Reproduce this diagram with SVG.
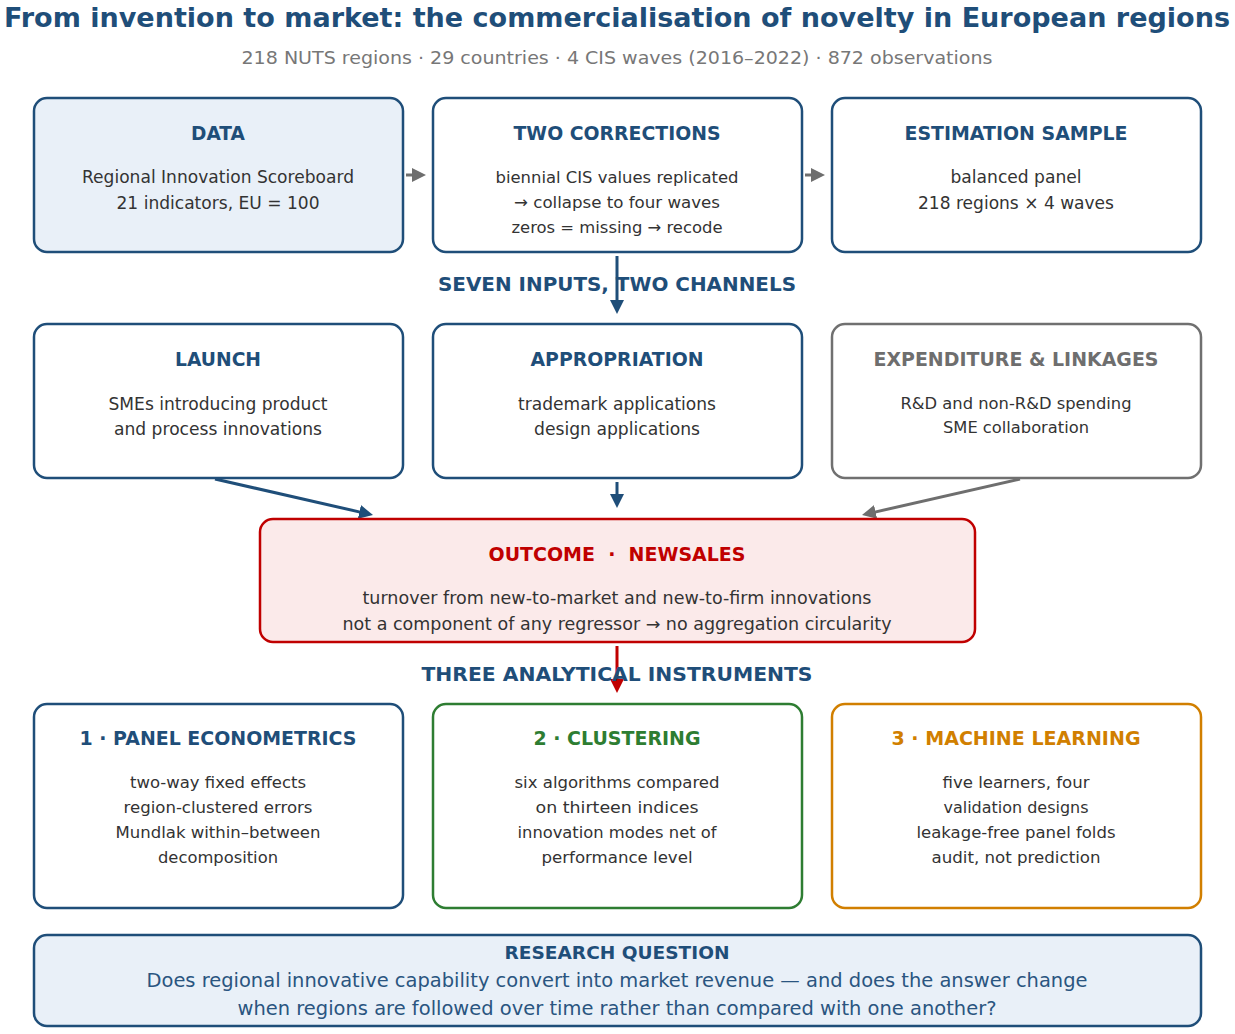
<svg xmlns="http://www.w3.org/2000/svg" width="1235" height="1034" viewBox="0 0 1235 1034">
<style>
text{font-family:"DejaVu Sans","Liberation Sans",sans-serif;text-anchor:middle}
.title{font-size:26px;font-weight:bold;fill:#1f4e79}
.sub{font-size:18px;fill:#777}
.h{font-size:19px;font-weight:bold;fill:#1f4e79}
.b{font-size:17px;fill:#333}
.b16{font-size:16px;fill:#333}
.sec{font-size:19px;font-weight:bold;fill:#1f4e79}
.box{fill:#fff;stroke:#1f4e79;stroke-width:2.5}
.blue{fill:#e9f0f8}
.gbox{fill:#fff;stroke:#707070;stroke-width:2.5}
.rbox{fill:#fbeaea;stroke:#c00000;stroke-width:2.5}
.grbox{fill:#fff;stroke:#2e7d32;stroke-width:2.5}
.obox{fill:#fff;stroke:#d17f00;stroke-width:2.5}
.cb{stroke:#1f4e79;stroke-width:3;fill:none}
.cg{stroke:#6e6e6e;stroke-width:3;fill:none}
.cr{stroke:#c00000;stroke-width:3;fill:none}
</style>
<defs>
<marker id="ab" markerWidth="14" markerHeight="14" refX="3" refY="7" orient="auto" markerUnits="userSpaceOnUse"><path d="M0,0 L14,7 L0,14 Z" fill="#1f4e79"/></marker>
<marker id="ag" markerWidth="14" markerHeight="14" refX="3" refY="7" orient="auto" markerUnits="userSpaceOnUse"><path d="M0,0 L14,7 L0,14 Z" fill="#6e6e6e"/></marker>
<marker id="ar" markerWidth="14" markerHeight="14" refX="3" refY="7" orient="auto" markerUnits="userSpaceOnUse"><path d="M0,0 L14,7 L0,14 Z" fill="#c00000"/></marker>
</defs>
<rect width="1235" height="1034" fill="#fff"/>
<text class="title" x="617" y="27" textLength="1226" lengthAdjust="spacingAndGlyphs">From invention to market: the commercialisation of novelty in European regions</text>
<text class="sub" x="617" y="64" textLength="751" lengthAdjust="spacingAndGlyphs">218 NUTS regions · 29 countries · 4 CIS waves (2016–2022) · 872 observations</text>

<g id="connectors">
<line class="cg" x1="406" y1="175" x2="415" y2="175" marker-end="url(#ag)"/>
<line class="cg" x1="805" y1="175" x2="814" y2="175" marker-end="url(#ag)"/>
<line class="cb" x1="617" y1="256" x2="617" y2="303" marker-end="url(#ab)"/>
<line class="cb" x1="215" y1="479" x2="362.3" y2="512.6" marker-end="url(#ab)"/>
<line class="cb" x1="617" y1="482" x2="617" y2="497" marker-end="url(#ab)"/>
<line class="cg" x1="1020" y1="479" x2="872.7" y2="512.6" marker-end="url(#ag)"/>
<line class="cr" x1="617" y1="646" x2="617" y2="682" marker-end="url(#ar)"/>
</g>

<text class="sec" x="617" y="291" textLength="358" lengthAdjust="spacingAndGlyphs">SEVEN INPUTS, TWO CHANNELS</text>
<text class="sec" x="617" y="681" textLength="391" lengthAdjust="spacingAndGlyphs">THREE ANALYTICAL INSTRUMENTS</text>

<g id="data">
<rect class="box blue" x="34" y="98" width="369" height="154" rx="13"/>
<text class="h" x="218" y="140" textLength="54" lengthAdjust="spacingAndGlyphs">DATA</text>
<text class="b" x="218" y="183" textLength="272" lengthAdjust="spacingAndGlyphs">Regional Innovation Scoreboard</text>
<text class="b" x="218" y="209" textLength="203" lengthAdjust="spacingAndGlyphs">21 indicators, EU = 100</text>
</g>
<g id="corrections">
<rect class="box" x="433" y="98" width="369" height="154" rx="13"/>
<text class="h" x="617" y="140" textLength="207" lengthAdjust="spacingAndGlyphs">TWO CORRECTIONS</text>
<text class="b16" x="617" y="183" textLength="243" lengthAdjust="spacingAndGlyphs">biennial CIS values replicated</text>
<text class="b16" x="617" y="208" textLength="206" lengthAdjust="spacingAndGlyphs">→ collapse to four waves</text>
<text class="b16" x="617" y="233" textLength="211" lengthAdjust="spacingAndGlyphs">zeros = missing → recode</text>
</g>
<g id="sample">
<rect class="box" x="832" y="98" width="369" height="154" rx="13"/>
<text class="h" x="1016" y="140" textLength="223" lengthAdjust="spacingAndGlyphs">ESTIMATION SAMPLE</text>
<text class="b" x="1016" y="183" textLength="131" lengthAdjust="spacingAndGlyphs">balanced panel</text>
<text class="b" x="1016" y="209" textLength="196" lengthAdjust="spacingAndGlyphs">218 regions × 4 waves</text>
</g>

<g id="launch">
<rect class="box" x="34" y="324" width="369" height="154" rx="13"/>
<text class="h" x="218" y="366" textLength="86" lengthAdjust="spacingAndGlyphs">LAUNCH</text>
<text class="b" x="218" y="410" textLength="219" lengthAdjust="spacingAndGlyphs">SMEs introducing product</text>
<text class="b" x="218" y="435" textLength="208" lengthAdjust="spacingAndGlyphs">and process innovations</text>
</g>
<g id="appropriation">
<rect class="box" x="433" y="324" width="369" height="154" rx="13"/>
<text class="h" x="617" y="366" textLength="173" lengthAdjust="spacingAndGlyphs">APPROPRIATION</text>
<text class="b" x="617" y="410" textLength="198" lengthAdjust="spacingAndGlyphs">trademark applications</text>
<text class="b" x="617" y="435" textLength="166" lengthAdjust="spacingAndGlyphs">design applications</text>
</g>
<g id="expenditure">
<rect class="gbox" x="832" y="324" width="369" height="154" rx="13"/>
<text class="h" x="1016" y="366" style="fill:#6e6e6e" textLength="285" lengthAdjust="spacingAndGlyphs">EXPENDITURE &amp; LINKAGES</text>
<text class="b16" x="1016" y="409" textLength="231" lengthAdjust="spacingAndGlyphs">R&amp;D and non-R&amp;D spending</text>
<text class="b16" x="1016" y="433" textLength="146" lengthAdjust="spacingAndGlyphs">SME collaboration</text>
</g>

<g id="outcome">
<rect class="rbox" x="260" y="519" width="715" height="123" rx="13"/>
<text class="h" x="617" y="561" style="fill:#c00000" textLength="257" lengthAdjust="spacingAndGlyphs">OUTCOME &#160;·&#160; NEWSALES</text>
<text class="b" x="617" y="604" textLength="509" lengthAdjust="spacingAndGlyphs">turnover from new-to-market and new-to-firm innovations</text>
<text class="b" x="617" y="630" textLength="549" lengthAdjust="spacingAndGlyphs">not a component of any regressor → no aggregation circularity</text>
</g>

<g id="panel">
<rect class="box" x="34" y="704" width="369" height="204" rx="13"/>
<text class="h" x="218" y="745" textLength="277" lengthAdjust="spacingAndGlyphs">1 · PANEL ECONOMETRICS</text>
<text class="b16" x="218" y="788" textLength="176" lengthAdjust="spacingAndGlyphs">two-way fixed effects</text>
<text class="b16" x="218" y="813" textLength="189" lengthAdjust="spacingAndGlyphs">region-clustered errors</text>
<text class="b16" x="218" y="838" textLength="205" lengthAdjust="spacingAndGlyphs">Mundlak within–between</text>
<text class="b16" x="218" y="863" textLength="120" lengthAdjust="spacingAndGlyphs">decomposition</text>
</g>
<g id="clustering">
<rect class="grbox" x="433" y="704" width="369" height="204" rx="13"/>
<text class="h" x="617" y="745" style="fill:#2e7d32" textLength="167" lengthAdjust="spacingAndGlyphs">2 · CLUSTERING</text>
<text class="b16" x="617" y="788" textLength="205" lengthAdjust="spacingAndGlyphs">six algorithms compared</text>
<text class="b16" x="617" y="813" textLength="163" lengthAdjust="spacingAndGlyphs">on thirteen indices</text>
<text class="b16" x="617" y="838" textLength="199" lengthAdjust="spacingAndGlyphs">innovation modes net of</text>
<text class="b16" x="617" y="863" textLength="151" lengthAdjust="spacingAndGlyphs">performance level</text>
</g>
<g id="ml">
<rect class="obox" x="832" y="704" width="369" height="204" rx="13"/>
<text class="h" x="1016" y="745" style="fill:#d17f00" textLength="249" lengthAdjust="spacingAndGlyphs">3 · MACHINE LEARNING</text>
<text class="b16" x="1016" y="788" textLength="147" lengthAdjust="spacingAndGlyphs">five learners, four</text>
<text class="b16" x="1016" y="813" textLength="145" lengthAdjust="spacingAndGlyphs">validation designs</text>
<text class="b16" x="1016" y="838" textLength="199" lengthAdjust="spacingAndGlyphs">leakage-free panel folds</text>
<text class="b16" x="1016" y="863" textLength="169" lengthAdjust="spacingAndGlyphs">audit, not prediction</text>
</g>

<g id="question">
<rect class="box blue" x="34" y="935" width="1167" height="91" rx="13"/>
<text class="h" x="617" y="959" style="font-size:17px" textLength="225" lengthAdjust="spacingAndGlyphs">RESEARCH QUESTION</text>
<text x="617" y="987" style="font-size:19px;fill:#2a5580" textLength="941" lengthAdjust="spacingAndGlyphs">Does regional innovative capability convert into market revenue — and does the answer change</text>
<text x="617" y="1015" style="font-size:19px;fill:#2a5580" textLength="759" lengthAdjust="spacingAndGlyphs">when regions are followed over time rather than compared with one another?</text>
</g>
</svg>
